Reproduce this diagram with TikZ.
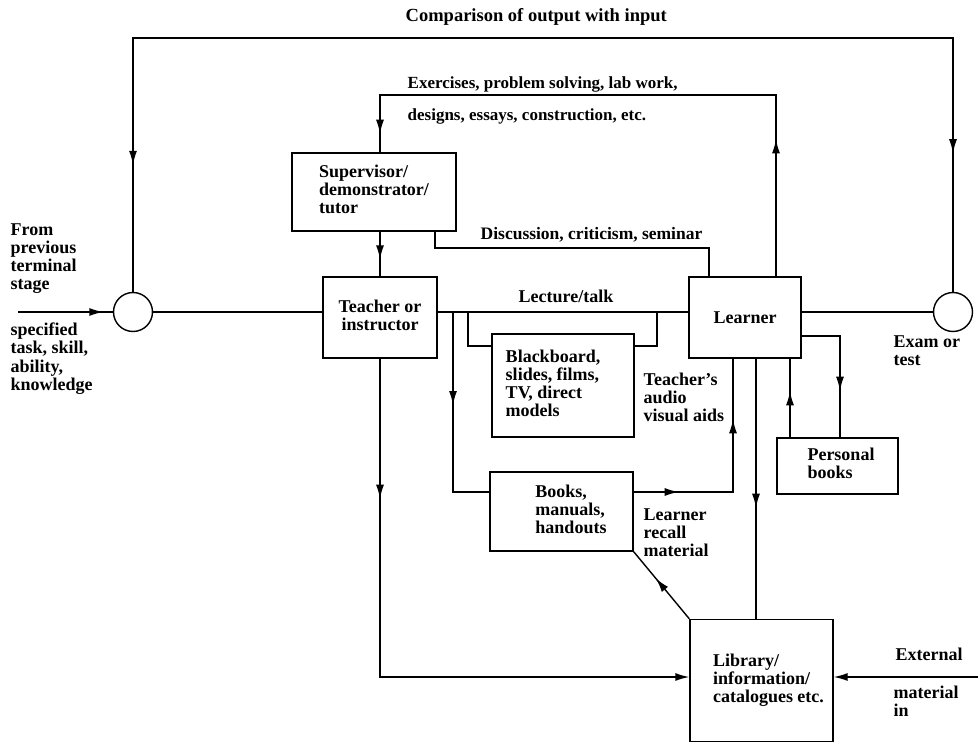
\documentclass[tikz,border=0pt]{standalone}
\usepackage{fontspec}
\setmainfont{Liberation Serif}
\usetikzlibrary{arrows.meta,decorations.markings}
\newcommand\fs{\fontsize{18}{18}\selectfont\bfseries}
\newcommand\tbl[2]{\hspace*{#1}\begin{tabular}{@{}l@{}}#2\end{tabular}}
\newcommand\tbc[1]{\begin{tabular}{@{}c@{}}#1\end{tabular}}
\begin{document}
\begin{tikzpicture}[x=1pt,y=-1pt,line width=1.4pt,
  box/.style={draw,rectangle,inner sep=0pt,font=\fs},
  circ/.style={draw,circle,inner sep=0pt,minimum size=39pt},
  lbl/.style={inner sep=0pt,font=\fs,align=left,anchor=base west},
  tipend/.style={-{Latex[length=14pt,width=8pt]}},
  ar/.style={postaction={decorate},decoration={markings,mark=at position #1 with {\arrow{Latex[length=14pt,width=8pt]}}}},
  ar2/.style 2 args={postaction={decorate},decoration={markings,
     mark=at position #1 with {\arrow{Latex[length=14pt,width=8pt]}},
     mark=at position #2 with {\arrow{Latex[length=14pt,width=8pt]}}}},
  arloop/.style 2 args={postaction={decorate},decoration={markings,
     mark=at position #1 with {\arrowreversed{Latex[length=14pt,width=8pt]}},
     mark=at position #2 with {\arrow{Latex[length=14pt,width=8pt]}}}}
]
\useasboundingbox (0,0) rectangle (978,744);

% nodes
\node[circ] (cL) at (133,312) {};
\node[circ] (cR) at (953,312) {};
\node[box,minimum width=164pt,minimum height=78pt] (sup) at (374,192) {\tbl{0pt}{Supervisor/\\demonstrator/\\tutor}};
\node[box,minimum width=114pt,minimum height=81pt] (teach) at (380,317.5) {\tbc{Teacher or\\instructor}};
\node[box,minimum width=112pt,minimum height=81pt] (learn) at (745,317.5) {Learner};
\node[box,minimum width=142pt,minimum height=103pt] (black) at (563,385.5) {\tbl{-20pt}{Blackboard,\\slides, films,\\TV, direct\\models}};
\node[box,minimum width=143pt,minimum height=79pt] (books) at (561.5,511.5) {\tbl{19pt}{Books,\\manuals,\\handouts}};
\node[box,minimum width=121pt,minimum height=56pt] (pers) at (837.5,466) {\tbl{7pt}{Personal\\books}};
\node[box,minimum width=143pt,minimum height=122pt] (lib) at (761.5,680.5) {\tbl{14pt}{Library/\\information/\\catalogues etc.}};

% helper coordinates
\coordinate (tl) at (133,38);
\coordinate (tr) at (953,38);
\coordinate (e1) at (776,95);
\coordinate (e2) at (380,95);
\coordinate (d1) at (435,248);
\coordinate (d2) at (709,248);
\coordinate (in0) at (18,312);
\coordinate (bk1) at (468,312);
\coordinate (bk2) at (657,312);
\coordinate (bb) at (453,312);
\coordinate (ext) at (978,677);

% comparison loop
\draw[arloop={127pt}{1189pt}] (cL.north) -- (tl) -- (tr) -- (cR.north);
% exercises loop
\draw[ar2={137pt}{616pt}] ([xshift=31pt]learn.north) -- (e1) -- (e2) -- ([xshift=6pt]sup.north);
% discussion
\draw ([xshift=61pt]sup.south) -- (d1) -- (d2) -- ([xshift=-36pt]learn.north);
% supervisor -> teacher
\draw[ar=0.62] (teach.north |- sup.south) -- (teach.north);
% main line
\draw[ar=0.9] (in0) -- (cL.west);
\draw (cL.east) -- (cL.east -| teach.west);
\draw (teach.east |- cL.east) -- (learn.west |- cL.east);
\draw (learn.east |- cR.west) -- (cR.west);
% blackboard bracket
\draw (bk1) |- ([yshift=39.5pt]black.west);
\draw ([yshift=39.5pt]black.east) -| (bk2);
% books
\draw[ar=93pt] (bb) |- ([yshift=19.5pt]books.west);
\draw[ar2={45pt}{172pt}] ([yshift=19.5pt]books.east) -| ([xshift=-12pt]learn.south);
% teacher -> library
\draw[ar=140pt,tipend] (teach.south) |- ([yshift=3.5pt]lib.west);
% learner -> library
\draw[ar=149pt] ([xshift=11pt]learn.south) -- ([xshift=-5.5pt]lib.north);
% library -> books
\draw[ar=0.6] (lib.north west) -- (books.south east);
% external
\draw[tipend] (ext) -- ([yshift=3.5pt]lib.east);
% learner <-> personal books
\draw[ar=93pt] ([yshift=-18.5pt]learn.east) -| ([xshift=2.5pt]pers.north);
\draw[ar=46pt] ([xshift=-47.5pt]pers.north) -- ([xshift=45pt]learn.south);

% labels (anchor = baseline of last line)
\node[lbl,font=\fontsize{18.5}{18}\selectfont\bfseries] (lcmp) at (405,21) {Comparison of output with input};
\node[lbl,font=\fontsize{17}{17}\selectfont\bfseries] (lex1) at (407,88) {Exercises, problem solving, lab work,};
\node[lbl,font=\fontsize{17}{17}\selectfont\bfseries] (lex2) at (407,120) {designs, essays, construction, etc.};
\node[lbl,font=\fontsize{17.5}{18}\selectfont\bfseries] (ldisc) at (480,239) {Discussion, criticism, seminar};
\node[lbl] (llect) at (518,302) {Lecture/talk};
\node[lbl] (lfrom) at (10,289) {From\\previous\\terminal\\stage};
\node[lbl,font=\fontsize{18}{18.5}\selectfont\bfseries] (lspec) at (10,390.5) {specified\\task, skill,\\ability,\\knowledge};
\node[lbl] (ltav) at (643,421) {Teacher's\\audio\\visual aids};
\node[lbl] (llrm) at (643,556) {Learner\\recall\\material};
\node[lbl] (lexam) at (893,365) {Exam or\\test};
\node[lbl] (lext) at (895,660) {External};
\node[lbl] (lmat) at (893,716) {material\\in};
\end{tikzpicture}
\end{document}
